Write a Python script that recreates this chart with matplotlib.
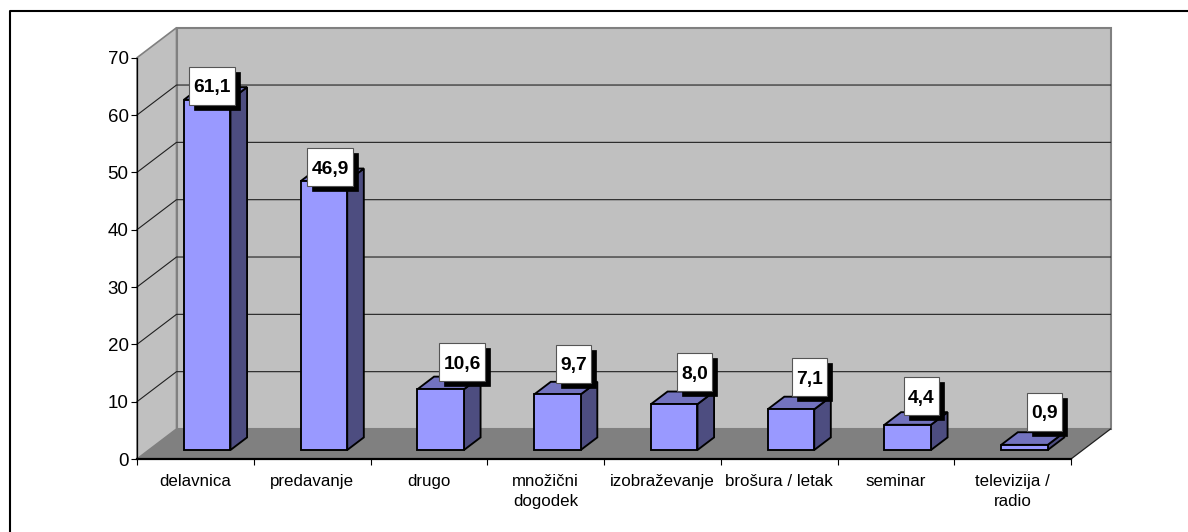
import matplotlib
matplotlib.use('Agg')
import matplotlib.pyplot as plt
from matplotlib.lines import Line2D
from matplotlib.patches import Polygon, Rectangle

plt.rcParams['font.family'] = ['Liberation Sans', 'DejaVu Sans']

categories = ['delavnica', 'predavanje', 'drugo', 'množični\ndogodek', 'izobraževanje',
              'brošura / letak', 'seminar', 'televizija /\nradio']
values = [61.1, 46.9, 10.6, 9.7, 8.0, 7.1, 4.4, 0.9]
y_ticks = [0, 10, 20, 30, 40, 50, 60, 70]

# label box shift from the bar's front top centre, in pixels
label_dx = [4.8, 6.1, 21.3, 15.9, 20.4, 18.5, 13.5, 19.6]
label_dy = [13.8, 14, 27, 30.5, 32, 32, 28.7, 33]

W, H = 1188, 532
X0, X1, Y0, Y70 = 137, 1071, 459, 57.7
PX_X = 8 / (X1 - X0)      # data units per pixel
PX_Y = 70 / (Y0 - Y70)
DX, DY = 39.5 * PX_X, 30 * PX_Y  # depth of the 3d box
BAR_W = 46.5 * PX_X


def dp(x, y, frac):
    """point moved back along the depth axis"""
    return (x + frac * DX, y + frac * DY)


fig = plt.figure(figsize=(W / 100, H / 100), dpi=100, facecolor='white')
ax = fig.add_axes([X0 / W, 1 - Y0 / H, (X1 - X0) / W, (Y0 - Y70) / H])
ax.set_xlim(0, 8)
ax.set_ylim(0, 70)
ax.patch.set_visible(False)

# walls and floor
ax.add_patch(Polygon([dp(0, 0, 1), dp(8, 0, 1), dp(8, 70, 1), dp(0, 70, 1)], fc='#c0c0c0',
                     ec='#808080', lw=1.5, clip_on=False, zorder=1))
ax.add_patch(Polygon([dp(0, 0, 0), dp(0, 0, 1), dp(0, 70, 1), dp(0, 70, 0)], fc='#c0c0c0',
                     ec='#808080', lw=1.2, clip_on=False, zorder=1))
ax.add_patch(Polygon([dp(0, 0, 0), dp(8, 0, 0), dp(8, 0, 1), dp(0, 0, 1)], fc='#808080',
                     ec='none', clip_on=False, zorder=1.5))
ax.plot(*zip(dp(8, 0, 0), dp(8, 0, 1)), color='#202020', lw=0.9, clip_on=False, zorder=1.6)

for t in y_ticks[1:-1]:
    ax.plot(*zip(dp(0, t, 0), dp(0, t, 1), dp(8, t, 1)), color='#202020', lw=0.8,
            clip_on=False, zorder=1.4)

for i, v in enumerate(values):
    left = i + 0.5 - BAR_W / 2
    right = left + BAR_W
    front = [dp(left, 0, 0.3), dp(right, 0, 0.3), dp(right, v, 0.3), dp(left, v, 0.3)]
    side = [dp(right, 0, 0.3), dp(right, 0, 0.72), dp(right, v, 0.72), dp(right, v, 0.3)]
    top = [dp(left, v, 0.3), dp(right, v, 0.3), dp(right, v, 0.72), dp(left, v, 0.72)]
    for pts, col in [(side, '#4d4d80'), (top, '#7373bf'), (front, '#9999ff')]:
        ax.add_patch(Polygon(pts, fc=col, ec='black', lw=1.35, joinstyle='miter',
                             clip_on=False, zorder=3))

    # value label with its hard shadow
    txt = '{:.1f}'.format(v).replace('.', ',')
    bw = (46 if len(txt) == 4 else 35) * PX_X
    bh = 38 * PX_Y
    cx, cy = dp(i + 0.5, v, 0.3)
    cx += label_dx[i] * PX_X
    cy += label_dy[i] * PX_Y
    ax.add_patch(Rectangle((cx - bw / 2 + 5 * PX_X, cy - bh / 2 - 5 * PX_Y), bw, bh, fc='black',
                           ec='black', lw=0.5, clip_on=False, zorder=4))
    ax.add_patch(Rectangle((cx - bw / 2, cy - bh / 2), bw, bh, fc='white', ec='#555555', lw=0.8,
                           clip_on=False, zorder=5))
    ax.text(cx, cy, txt, ha='center', va='center_baseline', fontsize=13.8, fontweight='bold',
            color='black', zorder=6)

# axes
for s in ['top', 'right']:
    ax.spines[s].set_visible(False)
ax.spines['left'].set_linewidth(0.9)
ax.spines['bottom'].set_linewidth(1.6)
ax.spines['left'].set_zorder(2)
ax.spines['bottom'].set_zorder(2)
ax.set_yticks(y_ticks)
ax.tick_params(axis='y', length=4.5, width=0.8, pad=1.5, labelsize=13.5, labelcolor='black')
ax.set_xticks(range(9))
ax.set_xticklabels([])
ax.tick_params(axis='x', which='major', length=4.5, width=0.8)
ax.set_xticks([i + 0.5 for i in range(8)], minor=True)
ax.set_xticklabels(categories, minor=True, fontsize=12.2, linespacing=1.45)
ax.tick_params(axis='x', which='minor', length=0, pad=10.5)

# chart area frame, cut off by the right and bottom edges
fig.add_artist(Line2D([10 / W, 10 / W, 1], [0, 1 - 10.5 / H, 1 - 10.5 / H], color='black', lw=1.5))

fig.savefig('out.png', dpi=100)
plt.close()
